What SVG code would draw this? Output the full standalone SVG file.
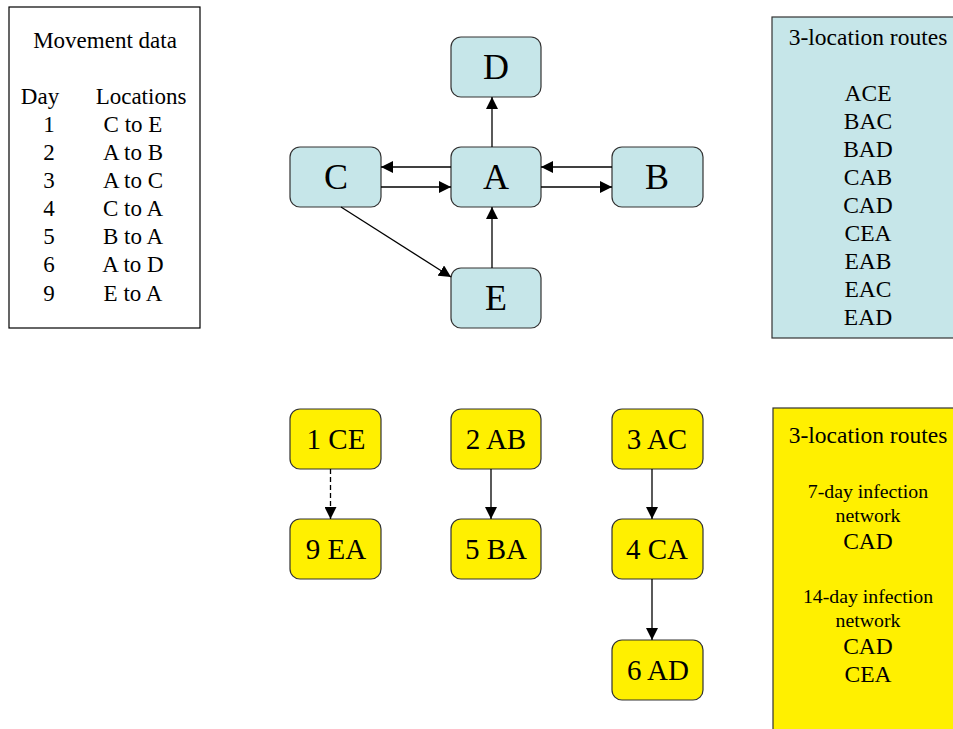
<svg xmlns="http://www.w3.org/2000/svg" width="953" height="729" viewBox="0 0 953 729">
<style>
text{font-family:"Liberation Serif","Times New Roman",serif;fill:#000}
.blue{fill:#C6E6E9;stroke:#333;stroke-width:1.2}
.yel{fill:#FFF000;stroke:#333;stroke-width:1.2}
.big{font-size:36px;text-anchor:middle}
.lbl{font-size:29px;text-anchor:middle}
.t{font-size:23px;text-anchor:middle}
.r{font-size:23.5px;text-anchor:middle}
.s{font-size:19.8px;text-anchor:middle}
.c{stroke:#000;stroke-width:1.3;fill:none}
</style>
<defs>
<marker id="ah" viewBox="0 0 12 12" refX="12" refY="6" markerWidth="12" markerHeight="12" markerUnits="userSpaceOnUse" orient="auto">
<path d="M0,0 L12,6 L0,12 Z" fill="#000"/>
</marker>
</defs>
<rect width="953" height="729" fill="#fff"/>

<g id="movement-data">
<rect x="9" y="7" width="191" height="321" fill="#fff" stroke="#000" stroke-width="1.2"/>
<text class="t" x="105" y="48">Movement data</text>
<text class="t" x="40" y="104">Day</text>
<text class="t" x="141" y="104">Locations</text>
<text class="t" x="49" y="132">1</text><text class="t" x="133" y="132">C to E</text>
<text class="t" x="49" y="160">2</text><text class="t" x="133" y="160">A to B</text>
<text class="t" x="49" y="188">3</text><text class="t" x="133" y="188">A to C</text>
<text class="t" x="49" y="216">4</text><text class="t" x="133" y="216">C to A</text>
<text class="t" x="49" y="244">5</text><text class="t" x="133" y="244">B to A</text>
<text class="t" x="49" y="272">6</text><text class="t" x="133" y="272">A to D</text>
<text class="t" x="49" y="301">9</text><text class="t" x="133" y="301">E to A</text>
</g>

<g id="routes-all">
<rect x="772" y="17" width="190" height="321" class="blue"/>
<text class="r" x="868" y="45">3-location routes</text>
<text class="r" x="868" y="100.5">ACE</text>
<text class="r" x="868" y="128.5">BAC</text>
<text class="r" x="868" y="156.5">BAD</text>
<text class="r" x="868" y="185">CAB</text>
<text class="r" x="868" y="213">CAD</text>
<text class="r" x="868" y="241">CEA</text>
<text class="r" x="868" y="269">EAB</text>
<text class="r" x="868" y="297">EAC</text>
<text class="r" x="868" y="325">EAD</text>
</g>

<g id="routes-infection">
<rect x="773" y="408" width="190" height="330" class="yel"/>
<text class="r" x="868" y="443">3-location routes</text>
<text class="s" x="868" y="497.5">7-day infection</text>
<text class="s" x="868" y="521.5">network</text>
<text class="r" x="868" y="548.5">CAD</text>
<text class="s" x="868" y="602.5">14-day infection</text>
<text class="s" x="868" y="626.5">network</text>
<text class="r" x="868" y="653.5">CAD</text>
<text class="r" x="868" y="681.5">CEA</text>
</g>

<g id="node-D"><rect x="451" y="37" width="90" height="60" rx="10" class="blue"/><text class="big" x="496" y="79">D</text></g>
<g id="node-A"><rect x="451" y="147" width="90" height="60" rx="10" class="blue"/><text class="big" x="496" y="189">A</text></g>
<g id="node-C"><rect x="290" y="147" width="91" height="60" rx="10" class="blue"/><text class="big" x="336" y="189">C</text></g>
<g id="node-B"><rect x="612" y="147" width="91" height="60" rx="10" class="blue"/><text class="big" x="657" y="189">B</text></g>
<g id="node-E"><rect x="451" y="268" width="90" height="60" rx="10" class="blue"/><text class="big" x="496" y="310">E</text></g>

<g id="node-1CE"><rect x="290" y="409" width="91" height="60" rx="10" class="yel"/><text class="lbl" x="336" y="448.5">1 CE</text></g>
<g id="node-9EA"><rect x="290" y="519" width="91" height="60" rx="10" class="yel"/><text class="lbl" x="336" y="558.5">9 EA</text></g>
<g id="node-2AB"><rect x="451" y="409" width="90" height="60" rx="10" class="yel"/><text class="lbl" x="496" y="448.5">2 AB</text></g>
<g id="node-5BA"><rect x="451" y="519" width="90" height="60" rx="10" class="yel"/><text class="lbl" x="496" y="558.5">5 BA</text></g>
<g id="node-3AC"><rect x="612" y="409" width="91" height="60" rx="10" class="yel"/><text class="lbl" x="657" y="448.5">3 AC</text></g>
<g id="node-4CA"><rect x="612" y="519" width="91" height="60" rx="10" class="yel"/><text class="lbl" x="657" y="558.5">4 CA</text></g>
<g id="node-6AD"><rect x="612" y="640" width="91" height="60" rx="10" class="yel"/><text class="lbl" x="658" y="679.5">6 AD</text></g>

<g id="connectors">
<line class="c" x1="492" y1="147" x2="492" y2="97" marker-end="url(#ah)"/>
<line class="c" x1="451" y1="167" x2="381" y2="167" marker-end="url(#ah)"/>
<line class="c" x1="381" y1="187" x2="451" y2="187" marker-end="url(#ah)"/>
<line class="c" x1="612" y1="167" x2="541" y2="167" marker-end="url(#ah)"/>
<line class="c" x1="541" y1="187" x2="612" y2="187" marker-end="url(#ah)"/>
<line class="c" x1="492" y1="268" x2="492" y2="207" marker-end="url(#ah)"/>
<line class="c" x1="341" y1="207" x2="451" y2="277" marker-end="url(#ah)"/>
<line class="c" x1="330.5" y1="469" x2="330.5" y2="519" stroke-dasharray="5,3" marker-end="url(#ah)"/>
<line class="c" x1="491" y1="469" x2="491" y2="519" marker-end="url(#ah)"/>
<line class="c" x1="652" y1="469" x2="652" y2="519" marker-end="url(#ah)"/>
<line class="c" x1="652" y1="579" x2="652" y2="640" marker-end="url(#ah)"/>
</g>
</svg>
